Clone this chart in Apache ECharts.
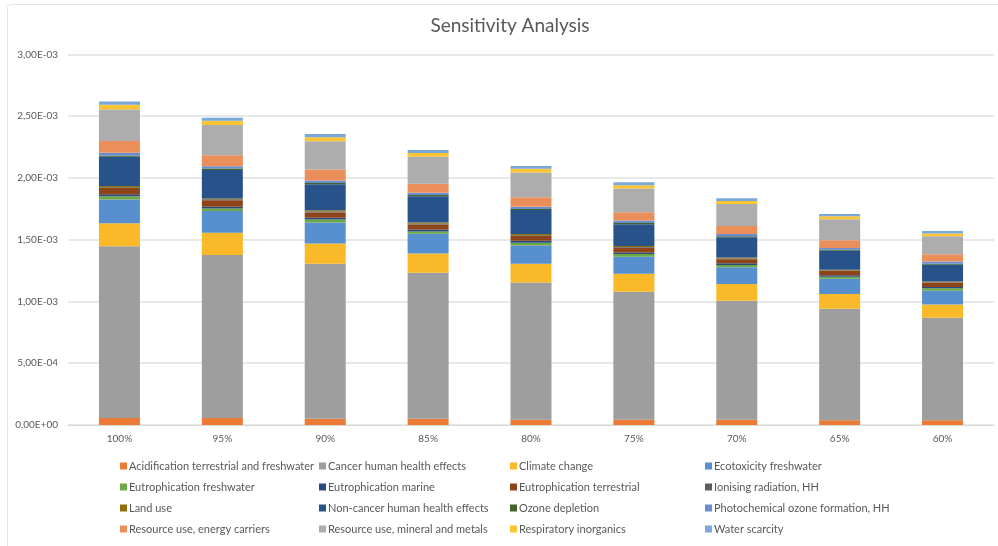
<!DOCTYPE html>
<html>
<head>
<meta charset="utf-8">
<script src="https://cdn.jsdelivr.net/npm/echarts@6/dist/echarts.min.js"></script>
<style>
  html, body { margin: 0; padding: 0; background: #ffffff; }
  #chart { width: 998px; height: 546px; }
</style>
</head>
<body>
<div id="chart"></div>
<script>
// Scenario categories (share of the reference input)
const categories = ['100%', '95%', '90%', '85%', '80%', '75%', '70%', '65%', '60%'];

// Impact category results per scenario
const acidification      = [5.7e-5, 5.7e-5, 5.1e-5, 5.1e-5, 4.3e-5, 4.3e-5, 4.3e-5, 3.8e-5, 3.8e-5];
const cancerHealth       = [1.390e-3, 1.318e-3, 1.254e-3, 1.181e-3, 1.111e-3, 1.035e-3, 0.963e-3, 0.903e-3, 0.830e-3];
const climateChange      = [1.86e-4, 1.81e-4, 1.64e-4, 1.56e-4, 1.51e-4, 1.46e-4, 1.35e-4, 1.19e-4, 1.08e-4];
const ecotoxicity        = [1.92e-4, 1.75e-4, 1.70e-4, 1.59e-4, 1.48e-4, 1.38e-4, 1.35e-4, 1.24e-4, 1.11e-4];
const eutroFreshwater    = [2.7e-5, 2.2e-5, 2.4e-5, 1.9e-5, 2.2e-5, 2.2e-5, 1.9e-5, 1.6e-5, 1.9e-5];
const eutroMarine        = [1.6e-5, 1.4e-5, 1.4e-5, 1.6e-5, 1.6e-5, 1.1e-5, 1.4e-5, 1.1e-5, 1.0e-5];
const eutroTerrestrial   = [4.9e-5, 5.1e-5, 4.3e-5, 4.0e-5, 3.8e-5, 4.0e-5, 3.2e-5, 3.5e-5, 3.5e-5];
const ionisingRadiation  = [8e-6, 8e-6, 8e-6, 7e-6, 7e-6, 6e-6, 6e-6, 5e-6, 5e-6];
const landUse            = [1.0e-5, 8e-6, 1.0e-5, 9e-6, 9e-6, 8e-6, 8e-6, 6e-6, 6e-6];
const nonCancerHealth    = [2.35e-4, 2.29e-4, 2.10e-4, 2.13e-4, 1.94e-4, 1.75e-4, 1.64e-4, 1.54e-4, 1.35e-4];
const ozoneDepletion     = [1.2e-5, 1.2e-5, 1.1e-5, 1.0e-5, 1.0e-5, 1.0e-5, 9e-6, 8e-6, 8e-6];
const photochemOzone     = [2.2e-5, 2.0e-5, 2.0e-5, 1.9e-5, 1.8e-5, 2.0e-5, 1.8e-5, 1.4e-5, 1.8e-5];
const resourceEnergy     = [9.4e-5, 8.9e-5, 8.9e-5, 7.3e-5, 7.6e-5, 6.7e-5, 6.5e-5, 6.2e-5, 5.9e-5];
const resourceMineral    = [2.56e-4, 2.43e-4, 2.29e-4, 2.18e-4, 2.00e-4, 1.92e-4, 1.78e-4, 1.70e-4, 1.46e-4];
const respiratory        = [3.8e-5, 3.5e-5, 3.2e-5, 3.0e-5, 3.0e-5, 2.7e-5, 2.4e-5, 2.4e-5, 2.2e-5];
const waterScarcity      = [2.7e-5, 2.4e-5, 2.7e-5, 2.4e-5, 2.4e-5, 2.4e-5, 2.2e-5, 1.9e-5, 2.0e-5];

// Value axis ticks
const yTicks = [0, 5e-4, 1e-3, 1.5e-3, 2e-3, 2.5e-3, 3e-3];

const seriesNames = [
  'Acidification terrestrial and freshwater', 'Cancer human health effects', 'Climate change', 'Ecotoxicity freshwater',
  'Eutrophication freshwater', 'Eutrophication marine', 'Eutrophication terrestrial', 'Ionising radiation, HH',
  'Land use', 'Non-cancer human health effects', 'Ozone depletion', 'Photochemical ozone formation, HH',
  'Resource use, energy carriers', 'Resource use, mineral and metals', 'Respiratory inorganics', 'Water scarcity'
];
const seriesData = [
  acidification, cancerHealth, climateChange, ecotoxicity,
  eutroFreshwater, eutroMarine, eutroTerrestrial, ionisingRadiation,
  landUse, nonCancerHealth, ozoneDepletion, photochemOzone,
  resourceEnergy, resourceMineral, respiratory, waterScarcity
];
const palette = [
  '#EB7A35', '#9E9E9E', '#F9B928', '#5890CF',
  '#6CA845', '#284A7E', '#8F4318', '#5E5E5E',
  '#8F6E0E', '#27538A', '#41652C', '#6A8ED0',
  '#EB8F5A', '#ADADAD', '#FBC535', '#7AA8D8'
];

// "3,00E-03" style scientific labels
function sciLabel(v) {
  const s = Number(v).toExponential(2);
  const parts = s.split('e');
  const mant = parts[0].replace('.', ',');
  const exp = parseInt(parts[1], 10);
  const sign = exp < 0 ? '-' : '+';
  const absExp = String(Math.abs(exp)).padStart(2, '0');
  return mant + 'E' + sign + absExp;
}

const FONT = 'Liberation Sans Narrow, Lato, sans-serif';
const TEXT = '#595959';

const chart = echarts.init(document.getElementById('chart'), null, { renderer: 'canvas' });

// Four legend columns laid out column-major like the series order (row by row)
const legendCols = [0, 1, 2, 3].map(c => seriesNames.filter((_, i) => i % 4 === c));
const legendX = [120, 319, 510, 705];

const option = {
  animation: false,
  color: palette,
  title: {
    text: 'Sensitivity Analysis',
    left: 505,
    textAlign: 'center',
    top: 11,
    textStyle: { fontFamily: 'Lato, Open Sans, sans-serif', fontSize: 19, fontWeight: 'normal', color: TEXT }
  },
  graphic: [{
    type: 'rect',
    shape: { x: 7.5, y: 4.5, width: 1000, height: 600, r: 3 },
    style: { fill: 'none', stroke: '#E3E3E3', lineWidth: 1 },
    silent: true
  }],
  legend: legendCols.map((names, c) => ({
    orient: 'vertical',
    left: legendX[c],
    top: 459,
    data: names,
    icon: 'rect',
    itemWidth: 7,
    itemHeight: 7,
    itemGap: 7,
    padding: 0,
    selectedMode: false,
    textStyle: { fontFamily: FONT, fontSize: 11, color: TEXT, lineHeight: 14, padding: [0, 0, 0, -3] }
  })),
  grid: { left: 68, right: 4, top: 54.3, bottom: 121, containLabel: false },
  xAxis: {
    type: 'category',
    data: categories,
    axisTick: { show: false },
    axisLine: { lineStyle: { color: '#D9D9D9', width: 1 } },
    axisLabel: { fontFamily: FONT, fontSize: 10, color: TEXT, margin: 9 }
  },
  yAxis: {
    type: 'value',
    min: yTicks[0],
    max: yTicks[yTicks.length - 1],
    interval: yTicks[1] - yTicks[0],
    axisLine: { show: false },
    axisTick: { show: false },
    splitLine: { lineStyle: { color: '#E0E0E0', width: 1.5 } },
    axisLabel: { fontFamily: FONT, fontSize: 10, color: TEXT, margin: 10, formatter: sciLabel }
  },
  series: seriesNames.map((name, i) => ({
    name: name,
    type: 'bar',
    stack: 'total',
    barWidth: 41,
    data: seriesData[i],
    itemStyle: { color: palette[i] }
  }))
};

chart.setOption(option);
</script>
</body>
</html>
